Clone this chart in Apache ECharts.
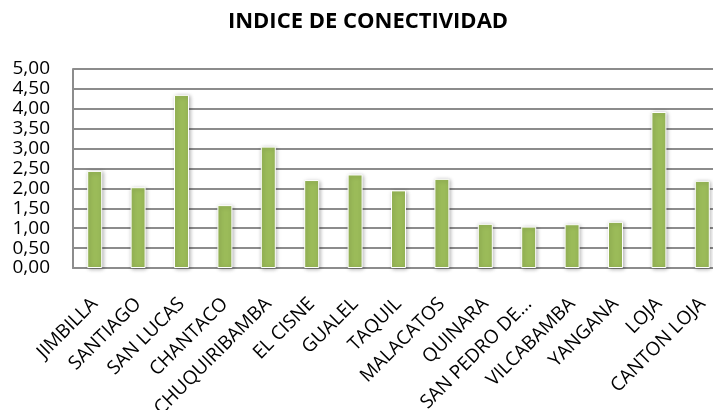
<!DOCTYPE html>
<html>
<head>
<meta charset="utf-8">
<script src="https://cdn.jsdelivr.net/npm/echarts@6/dist/echarts.min.js"></script>
<style>
  html, body { margin: 0; padding: 0; background: #fff; overflow: hidden; }
  /* chart is a bit wider than the window; its right edge is clipped */
  #chart { width: 736px; height: 410px; }
</style>
</head>
<body>
<div id="chart"></div>
<script>
// Connectivity index per parish
const categories = [
  'JIMBILLA', 'SANTIAGO', 'SAN LUCAS', 'CHANTACO', 'CHUQUIRIBAMBA',
  'EL CISNE', 'GUALEL', 'TAQUIL', 'MALACATOS', 'QUINARA',
  'SAN PEDRO DE...', 'VILCABAMBA', 'YANGANA', 'LOJA', 'CANTON LOJA'
];
const indiceValues = [
  2.44, 2.03, 4.35, 1.58, 3.05,
  2.21, 2.35, 1.95, 2.24, 1.11,
  1.04, 1.10, 1.16, 3.92, 2.19
];
const yTicks = [0, 0.5, 1, 1.5, 2, 2.5, 3, 3.5, 4, 4.5, 5];

const fontFamily = '"Open Sans", "Noto Sans", sans-serif';
const chart = echarts.init(document.getElementById('chart'));

chart.setOption({
  animation: false,
  title: {
    text: 'INDICE DE CONECTIVIDAD',
    left: 'center',
    top: 6,
    textStyle: { fontFamily, fontSize: 22, fontWeight: 'bold', color: '#000' }
  },
  grid: { left: 73, right: 12, top: 69, height: 199, outerBoundsMode: 'none', containLabel: false },
  xAxis: {
    type: 'category',
    data: categories,
    axisLine: { show: true, lineStyle: { color: '#8c8c8c', width: 2 } },
    axisTick: { show: false },
    axisLabel: {
      interval: 0,
      rotate: 45,
      margin: 33,
      fontFamily,
      fontSize: 19,
      color: '#000'
    }
  },
  yAxis: {
    type: 'value',
    min: yTicks[0],
    max: yTicks[yTicks.length - 1],
    interval: 0.5,
    axisLine: { show: true, lineStyle: { color: '#8c8c8c', width: 2 } },
    axisTick: { show: false },
    splitLine: { show: true, lineStyle: { color: '#8c8c8c', width: 2 } },
    axisLabel: {
      margin: 23,
      fontFamily,
      fontSize: 19,
      color: '#000',
      formatter: v => v.toFixed(2).replace('.', ',')
    }
  },
  series: [{
    type: 'bar',
    data: indiceValues,
    barWidth: 15,
    itemStyle: {
      color: '#9bbb59',
      borderColor: '#ffffff',
      borderWidth: 1,
      shadowBlur: 4,
      shadowColor: 'rgba(0,0,0,0.3)',
      shadowOffsetX: 1,
      shadowOffsetY: 1
    }
  }]
});
</script>
</body>
</html>
